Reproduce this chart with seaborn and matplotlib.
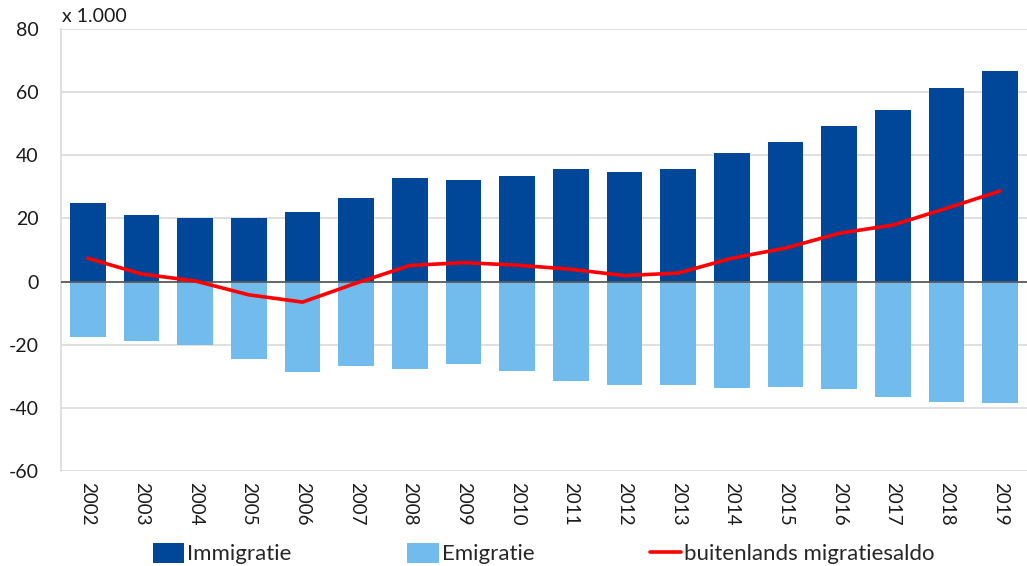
import matplotlib
matplotlib.use("Agg")
import matplotlib.pyplot as plt
import seaborn as sns
import pandas as pd
from matplotlib.patches import Patch
from matplotlib.lines import Line2D

years = [str(y) for y in range(2002, 2020)]
immigratie = [25.0, 21.1, 20.2, 20.2, 22.1, 26.4, 32.8, 32.2, 33.4, 35.6,
              34.7, 35.5, 40.7, 44.1, 49.2, 54.2, 61.4, 66.8]
emigratie = [-17.7, -18.7, -20.0, -24.6, -28.5, -26.8, -27.7, -26.1, -28.4, -31.6,
             -32.8, -32.7, -33.6, -33.4, -34.1, -36.4, -38.1, -38.3]
saldo = [7.4, 2.4, 0.2, -4.2, -6.5, -0.5, 5.1, 6.0, 5.2, 3.9,
         1.9, 2.7, 7.4, 10.6, 15.3, 17.9, 23.2, 28.7]
yticks = [-60, -40, -20, 0, 20, 40, 60, 80]

C_IMM = "#00479A"
C_EMI = "#71BCEC"
C_SAL = "#FF0000"

sns.set_theme(style="white")
plt.rcParams["font.family"] = ["Lato", "DejaVu Sans"]

df = pd.DataFrame({"jaar": years, "imm": immigratie, "emi": emigratie, "saldo": saldo})

fig = plt.figure(figsize=(10.27, 5.66), dpi=100)
ax = fig.add_axes([0.0594, 0.1678, 0.9406, 0.781])

sns.barplot(data=df, x="jaar", y="imm", color=C_IMM, width=0.664, ax=ax,
            saturation=1, edgecolor="none", order=years, zorder=2)
sns.barplot(data=df, x="jaar", y="emi", color=C_EMI, width=0.664, ax=ax,
            saturation=1, edgecolor="none", order=years, zorder=2)
sns.lineplot(data=df, x="jaar", y="saldo", color=C_SAL, linewidth=2.6, ax=ax,
             zorder=4, sort=False)

ax.set_ylim(-60, 80)
ax.set_xlim(-0.5, len(years) - 0.5)
ax.set_yticks(yticks)
ax.set_yticklabels([str(v) for v in yticks], fontsize=14, color="#1a1a1a")
ax.set_xticks(range(len(years)))
ax.set_xticklabels(years, rotation=270, fontsize=13.5, color="#1a1a1a")
ax.tick_params(axis="x", pad=8, length=0)
ax.tick_params(axis="y", pad=16, length=0)
ax.set_xlabel("")
ax.set_ylabel("")

for v in yticks:
    if v != 0:
        ax.axhline(v, color="#D9D9D9", linewidth=1.2, zorder=0)
ax.axhline(0, color="#595959", linewidth=1.3, zorder=3)

for s in ["top", "right", "bottom"]:
    ax.spines[s].set_visible(False)
ax.spines["left"].set_color("#D9D9D9")
ax.spines["left"].set_linewidth(1.2)

fig.text(0.0604, 0.970, "x 1.000", fontsize=14, color="#1a1a1a", va="center", ha="left")

handles = [Patch(facecolor=C_IMM, edgecolor="none"),
           Patch(facecolor=C_EMI, edgecolor="none"),
           Line2D([0], [0], color=C_SAL, linewidth=2.6)]
labels = ["Immigratie", "Emigratie", "buitenlands migratiesaldo"]
fig.legend(handles, labels, ncol=3, loc="center left",
           bbox_to_anchor=(0.149, 0.022), frameon=False, fontsize=16,
           handlelength=1.4, handleheight=1.0, handletextpad=0.15,
           columnspacing=5.2, borderaxespad=0, borderpad=0)

fig.savefig("out.png", dpi=100)
